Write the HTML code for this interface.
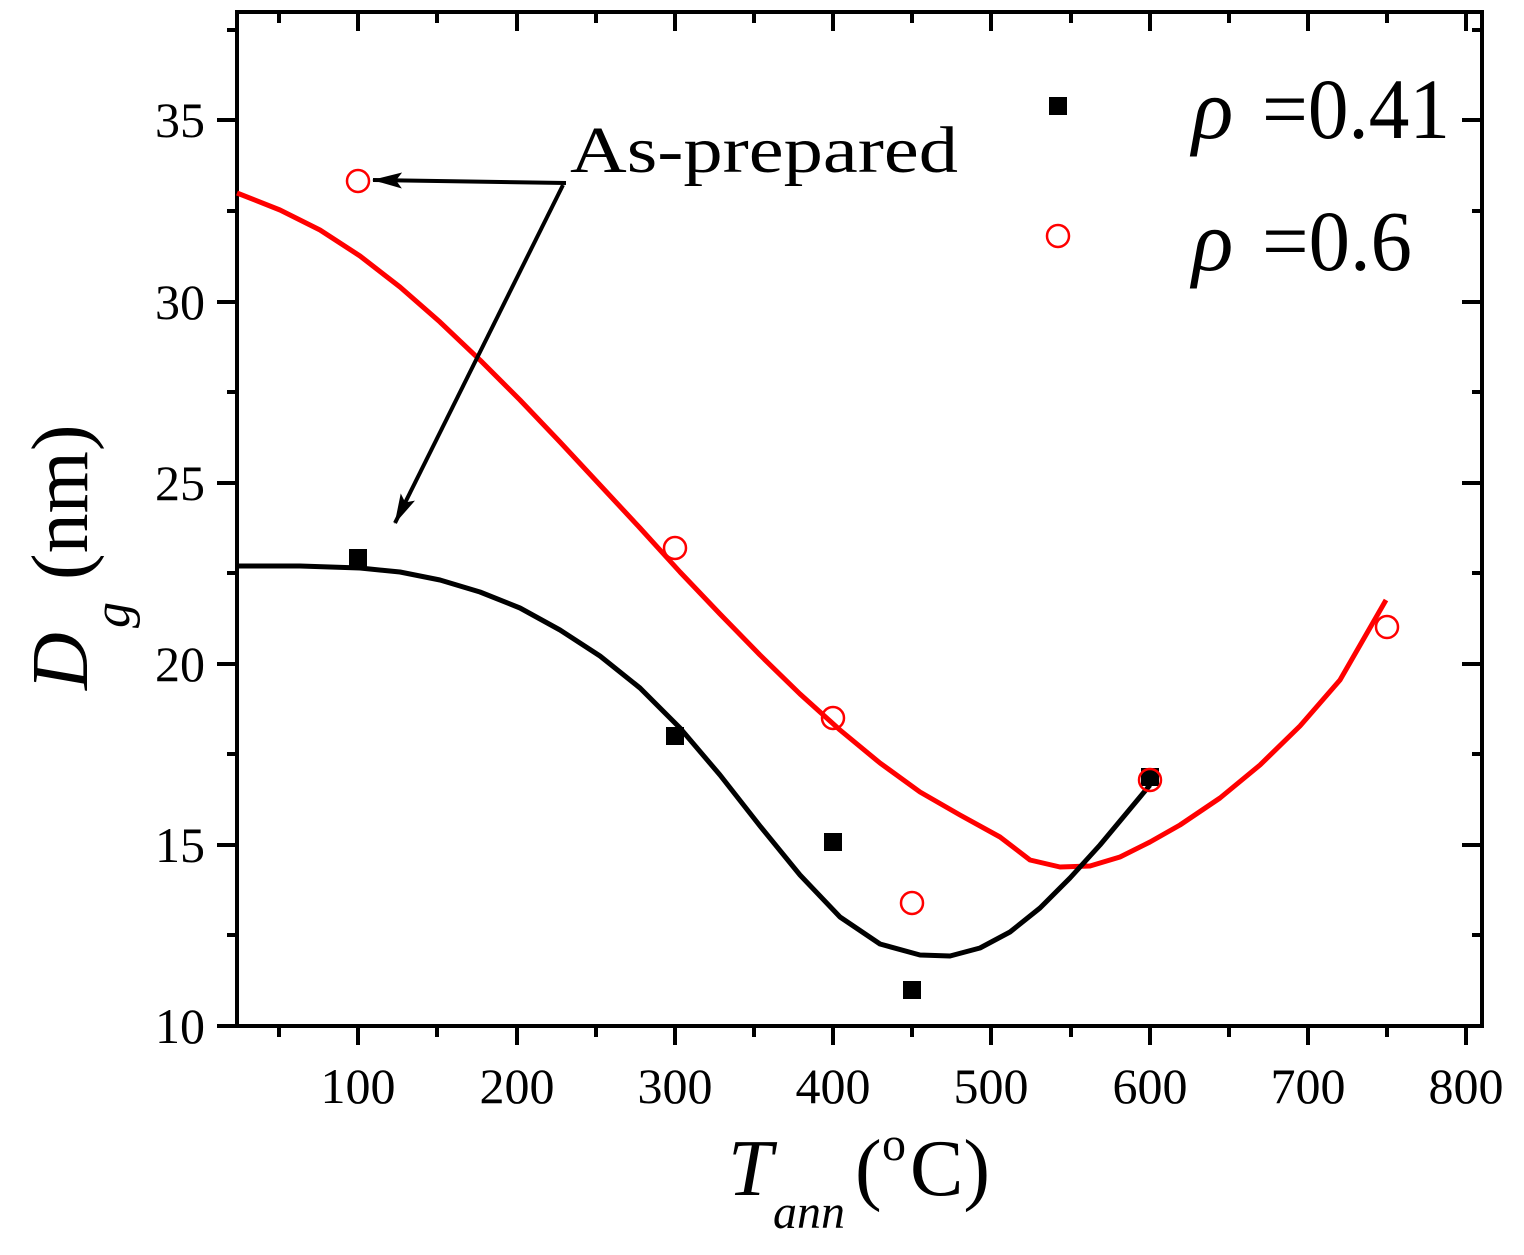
<!DOCTYPE html>
<html><head><meta charset="utf-8"><style>html,body{margin:0;padding:0;background:#fff}svg{display:block}</style></head>
<body>
<svg width="1524" height="1255" viewBox="0 0 1524 1255" xmlns="http://www.w3.org/2000/svg" font-family="Liberation Serif, serif">
<defs>
<marker id="ah2" markerWidth="30" markerHeight="16" refX="29" refY="8" orient="auto" markerUnits="userSpaceOnUse"><path d="M0,0 L30,8 L0,16 L6,8 z" fill="#000"/></marker></defs>
<rect x="237" y="12" width="1245" height="1014" fill="none" stroke="#000" stroke-width="4"/>
<g stroke="#000" stroke-width="4">
<path d="M279,1026v11M358,1026v19M437,1026v11M517,1026v19M596,1026v11M675,1026v19M754,1026v11M833,1026v19M912,1026v11M991,1026v19M1071,1026v11M1150,1026v19M1229,1026v11M1308,1026v19M1387,1026v11M1466,1026v19"/>
<path d="M279,12v11M358,12v19M437,12v11M517,12v19M596,12v11M675,12v19M754,12v11M833,12v19M912,12v11M991,12v19M1071,12v11M1150,12v19M1229,12v11M1308,12v19M1387,12v11M1466,12v19"/>
<path d="M237,1026h-20M237,935h-10M237,845h-20M237,754h-10M237,664h-20M237,573h-10M237,483h-20M237,392h-10M237,302h-20M237,211h-10M237,120h-20M237,30h-10"/>
<path d="M1482,935h-10M1482,845h-20M1482,754h-10M1482,664h-20M1482,573h-10M1482,483h-20M1482,392h-10M1482,302h-20M1482,211h-10M1482,120h-20M1482,30h-10"/>
</g>
<g font-size="50" text-anchor="middle">
<text x="358" y="1103">100</text><text x="517" y="1103">200</text><text x="675" y="1103">300</text><text x="833" y="1103">400</text><text x="991" y="1103">500</text><text x="1150" y="1103">600</text><text x="1308" y="1103">700</text><text x="1466" y="1103">800</text>
</g>
<g font-size="50" text-anchor="end">
<text x="205" y="1043">10</text><text x="205" y="862">15</text><text x="205" y="681">20</text><text x="205" y="500">25</text><text x="205" y="319">30</text><text x="205" y="137">35</text>
</g>
<text x="728" y="1195" font-size="80" font-style="italic">T</text>
<text x="773" y="1228" font-size="48" font-style="italic">ann</text>
<text x="855" y="1195" font-size="80">(</text>
<text x="882" y="1160" font-size="48">o</text>
<text x="910" y="1195" font-size="80">C)</text>
<g transform="translate(87,690) rotate(-90)">
<text x="0" y="0" font-size="80" font-style="italic">D</text>
<text x="62" y="42" font-size="52" font-style="italic">g</text>
<text x="110" y="0" font-size="80">(nm)</text>
</g>
<polyline fill="none" stroke="#f00" stroke-width="5" stroke-linejoin="round" points="237,193 280,210 320,230 360,256 400,287 440,322 480,360 520,400 560,442 600,485 640,528 680,572 720,614 760,655 800,694 840,730 880,763 920,792 960,815 1000,837 1030,860 1060,867 1090,866 1120,857 1150,842 1180,825 1220,798 1260,765 1300,726 1340,680 1386,600"/>
<polyline fill="none" stroke="#000" stroke-width="5" stroke-linejoin="round" points="237,566 300,566 360,568 400,572 440,580 480,592 520,608 560,630 600,656 640,688 680,728 720,775 760,826 800,875 840,917 880,944 920,955 950,956 980,948 1010,932 1040,908 1070,878 1100,845 1125,815 1150,785"/>
<g fill="#000">
<rect x="349" y="549" width="18" height="18"/><rect x="666" y="727" width="18" height="18"/><rect x="824" y="833" width="18" height="18"/><rect x="903" y="981" width="18" height="18"/><rect x="1141" y="768" width="18" height="18"/>
<rect x="1049" y="97" width="18" height="18"/>
</g>
<g fill="none" stroke="#f00" stroke-width="2.5">
<circle cx="358" cy="181" r="11"/><circle cx="675" cy="548" r="11"/><circle cx="833" cy="718" r="11"/><circle cx="912" cy="903" r="11"/><circle cx="1150" cy="780" r="11"/><circle cx="1387" cy="627" r="11"/>
<circle cx="1058" cy="236" r="11"/>
</g>
<text x="570" y="172" font-size="66" textLength="388" lengthAdjust="spacingAndGlyphs">As-prepared</text>
<line x1="566" y1="183" x2="373" y2="180" stroke="#000" stroke-width="4" marker-end="url(#ah2)"/>
<line x1="563" y1="185" x2="395" y2="523" stroke="#000" stroke-width="4" marker-end="url(#ah2)"/>
<text x="1192" y="138" font-size="86" font-style="italic">ρ</text>
<text x="1262" y="138" font-size="86" textLength="188" lengthAdjust="spacingAndGlyphs">=0.41</text>
<text x="1192" y="270" font-size="86" font-style="italic">ρ</text>
<text x="1262" y="270" font-size="86" textLength="150" lengthAdjust="spacingAndGlyphs">=0.6</text>
</svg>
</body></html>
